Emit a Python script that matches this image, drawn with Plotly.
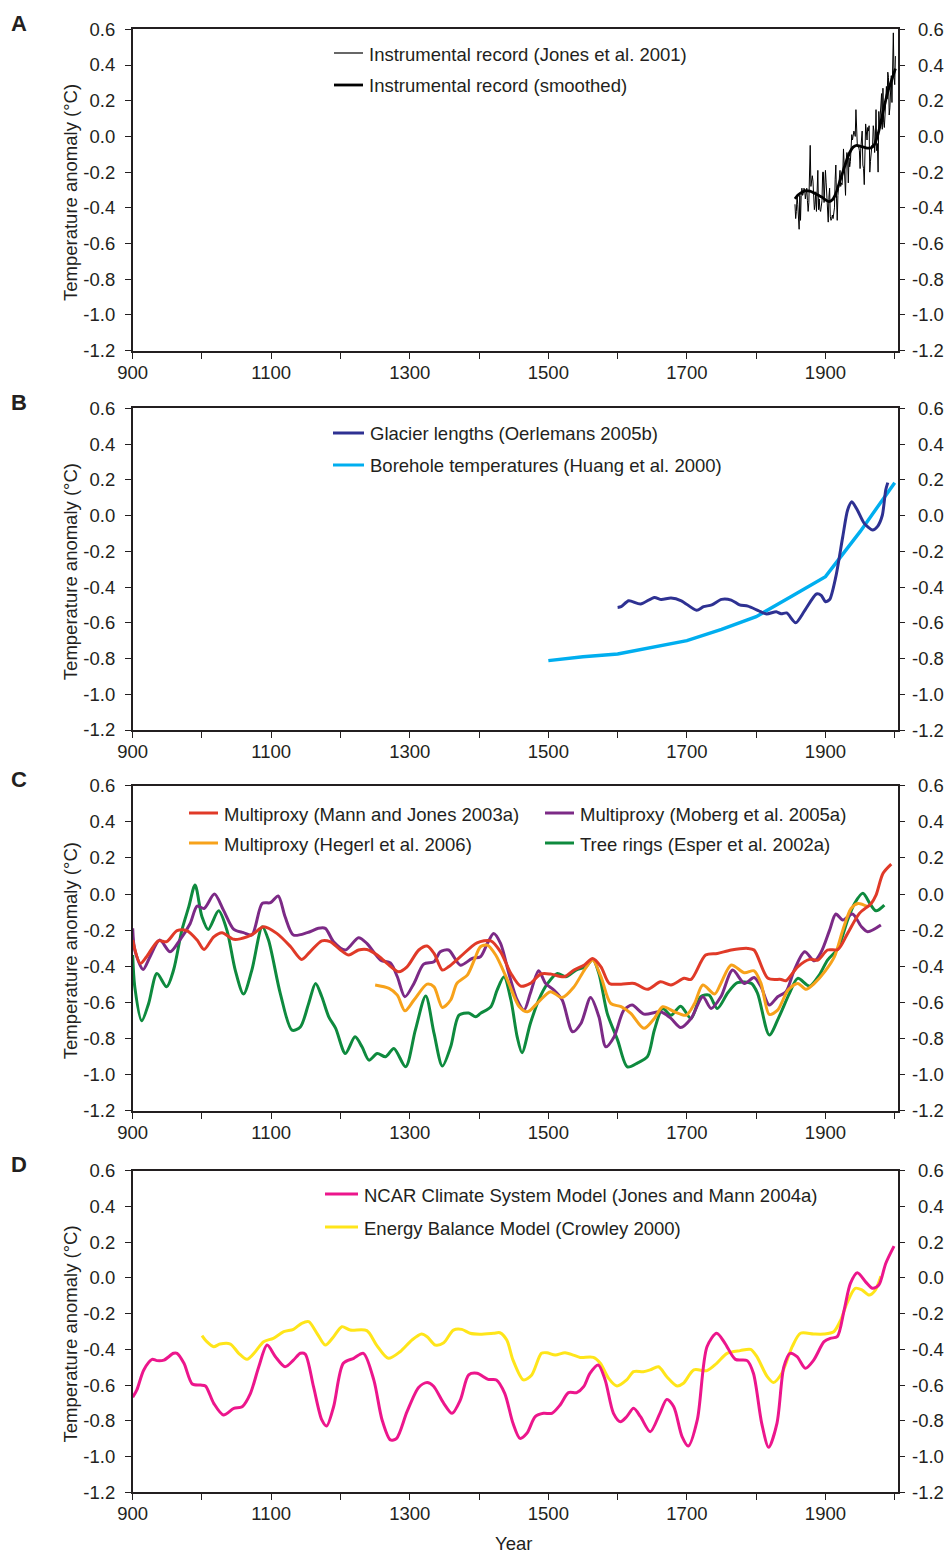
import plotly.graph_objects as go

# ---------------- Panel A: instrumental record ----------------
inst_years = list(range(1856, 2002))
inst_vals = [
    -0.38, -0.46, -0.42, -0.33, -0.38, -0.44, -0.52, -0.33, -0.47, -0.33,
    -0.29, -0.33, -0.32, -0.29, -0.30, -0.35, -0.29, -0.29, -0.36, -0.42,
    -0.37, -0.11, -0.05, -0.28, -0.26, -0.22, -0.25, -0.31, -0.41, -0.38,
    -0.31, -0.42, -0.32, -0.19, -0.41, -0.35, -0.41, -0.42, -0.39, -0.36,
    -0.20, -0.20, -0.37, -0.25, -0.19, -0.26, -0.37, -0.44, -0.48, -0.34,
    -0.29, -0.45, -0.47, -0.46, -0.44, -0.46, -0.40, -0.40, -0.24, -0.16,
    -0.35, -0.47, -0.33, -0.26, -0.26, -0.19, -0.28, -0.26, -0.27, -0.21,
    -0.07, -0.18, -0.18, -0.33, -0.13, -0.09, -0.13, -0.26, -0.12, -0.17,
    -0.14, -0.03, 0.01, -0.02, 0.03, 0.03, 0.02, 0.00, 0.15, -0.01,
    -0.05, -0.06, -0.06, -0.08, -0.18, -0.07, -0.02, 0.03, -0.16, -0.18,
    -0.27, 0.04, 0.07, 0.03, -0.02, 0.05, 0.03, 0.06, -0.20, -0.14,
    -0.06, -0.05, -0.06, 0.06, 0.03, -0.09, -0.02, 0.15, -0.08, -0.04,
    -0.20, 0.14, 0.05, 0.12, 0.19, 0.24, 0.04, 0.27, 0.08, 0.05,
    0.12, 0.27, 0.28, 0.21, 0.36, 0.33, 0.12, 0.16, 0.22, 0.34,
    0.19, 0.42, 0.58, 0.33, 0.29, 0.45,
]
smooth_years = [1856, 1860, 1865, 1870, 1875, 1880, 1885, 1890, 1895, 1900,
                1905, 1910, 1915, 1920, 1925, 1930, 1935, 1940, 1945, 1950,
                1955, 1960, 1965, 1970, 1975, 1980, 1985, 1990, 1995, 2001]
smooth_vals = [-0.35, -0.33, -0.315, -0.305, -0.305, -0.31, -0.32, -0.33, -0.34, -0.355,
               -0.365, -0.355, -0.32, -0.26, -0.20, -0.14, -0.09, -0.06, -0.05, -0.055,
               -0.06, -0.065, -0.065, -0.05, 0.0, 0.08, 0.17, 0.25, 0.31, 0.38]

# ---------------- Panel B: glaciers and boreholes ----------------
glacier_years = [1600, 1605, 1616, 1633, 1653, 1663, 1677, 1692, 1714, 1724, 1736,
                 1750, 1764, 1776, 1788, 1803, 1815, 1829, 1836, 1844, 1857, 1870,
                 1887, 1894, 1900, 1906, 1915, 1925, 1932, 1938, 1946, 1956, 1968,
                 1975, 1982, 1987, 1990]
glacier_vals = [-0.514, -0.51, -0.477, -0.495, -0.458, -0.47, -0.462, -0.477, -0.53, -0.51, -0.50,
                -0.469, -0.473, -0.50, -0.507, -0.532, -0.551, -0.538, -0.55, -0.545, -0.60, -0.532,
                -0.439, -0.447, -0.482, -0.47, -0.342, -0.118, 0.031, 0.077, 0.031, -0.044, -0.081,
                -0.062, 0.0, 0.143, 0.184]

borehole_years = [1500, 1550, 1600, 1650, 1700, 1750, 1800, 1850, 1900, 1950, 2000]
borehole_vals = [-0.812, -0.79, -0.775, -0.737, -0.70, -0.637, -0.566, -0.454, -0.342, -0.09, 0.184]

# ---------------- Panel C: proxy reconstructions ----------------
mann_years = [900, 911, 920, 937, 949, 964, 978, 993, 1003, 1017, 1029, 1046, 1065, 1075,
              1089, 1108, 1128, 1144, 1156, 1173, 1185, 1200, 1212, 1226, 1238, 1253, 1267,
              1284, 1296, 1313, 1325, 1335, 1347, 1356, 1373, 1397, 1417, 1431, 1446, 1460,
              1474, 1489, 1503, 1523, 1537, 1552, 1564, 1576, 1588, 1605, 1624, 1643, 1662,
              1677, 1696, 1706, 1727, 1744, 1764, 1788, 1797, 1817, 1836, 1843, 1860, 1877,
              1889, 1903, 1918, 1932, 1949, 1966, 1973, 1983, 1995]
mann_vals = [-0.255, -0.384, -0.347, -0.259, -0.264, -0.203, -0.203, -0.255, -0.307, -0.237,
             -0.214, -0.251, -0.237, -0.218, -0.181, -0.218, -0.292, -0.362, -0.320, -0.259,
             -0.264, -0.310, -0.338, -0.310, -0.307, -0.338, -0.384, -0.430, -0.403, -0.310,
             -0.288, -0.329, -0.421, -0.403, -0.347, -0.27, -0.259, -0.320, -0.44, -0.51,
             -0.495, -0.443, -0.443, -0.458, -0.421, -0.393, -0.357, -0.403, -0.495, -0.499,
             -0.495, -0.528, -0.486, -0.504, -0.467, -0.473, -0.338, -0.329, -0.310, -0.301,
             -0.310, -0.467, -0.473, -0.480, -0.403, -0.362, -0.366, -0.310, -0.307, -0.218,
             -0.107, -0.052, -0.006, 0.114, 0.166]

moberg_years = [900, 903, 915, 925, 939, 954, 968, 983, 993, 1003, 1018, 1031, 1046, 1060,
                1072, 1087, 1099, 1110, 1120, 1132, 1152, 1168, 1178, 1190, 1207, 1226, 1238,
                1258, 1272, 1282, 1293, 1306, 1320, 1335, 1344, 1356, 1373, 1390, 1402, 1412,
                1421, 1431, 1443, 1455, 1465, 1474, 1486, 1496, 1508, 1520, 1535, 1547, 1561,
                1573, 1583, 1595, 1609, 1621, 1638, 1662, 1677, 1691, 1706, 1723, 1735, 1749,
                1766, 1783, 1797, 1807, 1819, 1831, 1843, 1855, 1870, 1884, 1894, 1906, 1915,
                1925, 1939, 1952, 1961, 1980]
moberg_vals = [-0.19, -0.31, -0.418, -0.347, -0.255, -0.320, -0.255, -0.163, -0.067, -0.080,
               0.0, -0.089, -0.196, -0.214, -0.227, -0.052, -0.048, -0.011, -0.126, -0.227,
               -0.214, -0.190, -0.19, -0.264, -0.310, -0.242, -0.273, -0.366, -0.381, -0.458,
               -0.569, -0.495, -0.388, -0.375, -0.320, -0.310, -0.394, -0.357, -0.347, -0.273,
               -0.218, -0.273, -0.44, -0.587, -0.643, -0.550, -0.425, -0.495, -0.532, -0.587,
               -0.763, -0.717, -0.573, -0.68, -0.846, -0.79, -0.643, -0.615, -0.665, -0.652,
               -0.689, -0.739, -0.689, -0.569, -0.634, -0.569, -0.421, -0.495, -0.462, -0.514,
               -0.615, -0.569, -0.541, -0.421, -0.320, -0.370, -0.320, -0.2, -0.111, -0.144,
               -0.111, -0.181, -0.209, -0.172]

hegerl_years = [1250, 1270, 1282, 1293, 1306, 1325, 1335, 1347, 1359, 1368, 1383, 1393, 1402,
                1412, 1424, 1441, 1458, 1470, 1486, 1503, 1520, 1537, 1552, 1564, 1576, 1590,
                1605, 1619, 1638, 1653, 1665, 1682, 1699, 1711, 1723, 1740, 1749, 1764, 1783,
                1797, 1807, 1819, 1831, 1846, 1860, 1872, 1884, 1899, 1913, 1925, 1937, 1947,
                1961]
hegerl_vals = [-0.504, -0.523, -0.56, -0.647, -0.587, -0.499, -0.514, -0.628, -0.587, -0.495,
               -0.449, -0.366, -0.292, -0.283, -0.338, -0.477, -0.624, -0.652, -0.597, -0.541,
               -0.573, -0.514, -0.421, -0.366, -0.458, -0.606, -0.624, -0.661, -0.744, -0.689,
               -0.624, -0.652, -0.671, -0.606, -0.504, -0.554, -0.495, -0.393, -0.436, -0.425,
               -0.495, -0.667, -0.643, -0.532, -0.495, -0.528, -0.495, -0.430, -0.347, -0.2,
               -0.080, -0.052, -0.070]

esper_years = [900, 903, 913, 923, 935, 949, 959, 971, 981, 990, 1000, 1009, 1024, 1036, 1048,
               1060, 1072, 1087, 1096, 1113, 1130, 1142, 1154, 1164, 1173, 1183, 1193, 1207,
               1221, 1231, 1241, 1253, 1265, 1277, 1294, 1308, 1323, 1335, 1347, 1359, 1371,
               1385, 1395, 1402, 1417, 1426, 1436, 1446, 1455, 1462, 1474, 1486, 1499, 1513,
               1525, 1540, 1554, 1564, 1573, 1585, 1600, 1614, 1629, 1643, 1653, 1665, 1677,
               1691, 1706, 1720, 1732, 1744, 1759, 1773, 1793, 1802, 1819, 1833, 1848, 1860,
               1877, 1891, 1903, 1918, 1932, 1942, 1954, 1964, 1973, 1985]
esper_vals = [-0.338, -0.514, -0.702, -0.606, -0.44, -0.514, -0.421, -0.2, -0.070, 0.05,
              -0.126, -0.196, -0.093, -0.2, -0.421, -0.554, -0.421, -0.181, -0.255, -0.550,
              -0.754, -0.736, -0.606, -0.495, -0.569, -0.680, -0.744, -0.883, -0.791, -0.846,
              -0.920, -0.883, -0.901, -0.855, -0.957, -0.754, -0.565, -0.772, -0.953, -0.846,
              -0.671, -0.659, -0.680, -0.661, -0.624, -0.532, -0.458, -0.587, -0.791, -0.879,
              -0.717, -0.587, -0.495, -0.44, -0.458, -0.421, -0.403, -0.362, -0.44, -0.661,
              -0.809, -0.957, -0.935, -0.901, -0.754, -0.634, -0.671, -0.621, -0.689, -0.569,
              -0.560, -0.634, -0.547, -0.491, -0.495, -0.550, -0.781, -0.680, -0.550, -0.467,
              -0.510, -0.449, -0.366, -0.301, -0.144, -0.052, 0.004, -0.052, -0.093, -0.061]

# ---------------- Panel D: model simulations ----------------
ncar_years = [900, 906, 916, 928, 935, 945, 959, 964, 974, 986, 998, 1005, 1017, 1031, 1046,
              1058, 1070, 1082, 1094, 1106, 1120, 1132, 1142, 1149, 1161, 1173, 1180, 1190,
              1204, 1219, 1233, 1248, 1260, 1272, 1281, 1296, 1313, 1325, 1334, 1349, 1361,
              1373, 1385, 1397, 1413, 1425, 1437, 1449, 1459, 1469, 1481, 1493, 1505, 1517,
              1529, 1541, 1551, 1560, 1572, 1582, 1594, 1604, 1613, 1623, 1633, 1647, 1661,
              1671, 1681, 1693, 1702, 1715, 1729, 1743, 1755, 1770, 1787, 1796, 1808, 1818,
              1830, 1840, 1849, 1859, 1871, 1883, 1898, 1907, 1917, 1927, 1936, 1946, 1958,
              1968, 1977, 1987, 1999]
ncar_vals = [-0.668, -0.627, -0.515, -0.456, -0.463, -0.46, -0.422, -0.422, -0.478, -0.594,
             -0.6, -0.605, -0.702, -0.767, -0.730, -0.721, -0.646, -0.497, -0.376, -0.441,
             -0.497, -0.460, -0.422, -0.426, -0.609, -0.795, -0.829, -0.721, -0.478, -0.45,
             -0.422, -0.571, -0.795, -0.907, -0.898, -0.749, -0.612, -0.586, -0.605, -0.702,
             -0.758, -0.683, -0.543, -0.534, -0.568, -0.571, -0.646, -0.814, -0.898, -0.870,
             -0.777, -0.758, -0.758, -0.711, -0.642, -0.642, -0.609, -0.534, -0.487, -0.571,
             -0.758, -0.805, -0.777, -0.730, -0.777, -0.861, -0.758, -0.680, -0.721, -0.888,
             -0.941, -0.795, -0.385, -0.310, -0.366, -0.456, -0.463, -0.534, -0.814, -0.948,
             -0.814, -0.497, -0.422, -0.441, -0.506, -0.460, -0.357, -0.338, -0.329, -0.180,
             -0.031, 0.029, -0.022, -0.058, -0.040, 0.081, 0.178]

ebm_years = [1000, 1007, 1017, 1026, 1041, 1053, 1065, 1077, 1089, 1103, 1118, 1132, 1144,
             1154, 1166, 1178, 1190, 1202, 1214, 1238, 1252, 1269, 1286, 1303, 1317, 1325,
             1337, 1349, 1363, 1375, 1387, 1401, 1421, 1430, 1440, 1449, 1464, 1476, 1490,
             1498, 1510, 1524, 1536, 1546, 1565, 1575, 1587, 1599, 1613, 1623, 1637, 1647,
             1659, 1671, 1686, 1695, 1710, 1729, 1743, 1758, 1777, 1792, 1801, 1816, 1825,
             1837, 1852, 1864, 1883, 1898, 1912, 1922, 1931, 1943, 1953, 1963, 1972, 1980]
ebm_vals = [-0.323, -0.357, -0.385, -0.370, -0.370, -0.422, -0.456, -0.413, -0.357, -0.338,
            -0.301, -0.288, -0.254, -0.245, -0.310, -0.376, -0.329, -0.273, -0.292, -0.295,
            -0.376, -0.450, -0.413, -0.348, -0.314, -0.329, -0.376, -0.363, -0.292, -0.288,
            -0.310, -0.315, -0.310, -0.307, -0.348, -0.460, -0.571, -0.543, -0.422, -0.419,
            -0.432, -0.419, -0.432, -0.445, -0.445, -0.478, -0.562, -0.605, -0.571, -0.525,
            -0.525, -0.515, -0.497, -0.553, -0.605, -0.590, -0.515, -0.519, -0.478, -0.422,
            -0.407, -0.400, -0.441, -0.553, -0.586, -0.534, -0.385, -0.310, -0.314, -0.314,
            -0.301, -0.236, -0.142, -0.058, -0.068, -0.096, -0.068, 0.009]

# ---------------- Axis definitions ----------------
y_ticks = [-1.2, -1.0, -0.8, -0.6, -0.4, -0.2, 0.0, 0.2, 0.4, 0.6]
y_tick_labels = ["-1.2", "-1.0", "-0.8", "-0.6", "-0.4", "-0.2", "0.0", "0.2", "0.4", "0.6"]
x_ticks = list(range(900, 2001, 100))
x_tick_labels = ["900", "", "1100", "", "1300", "", "1500", "", "1700", "", "1900", ""]

W, H = 949, 1553
INK = "#231f20"
FONT = "Liberation Sans, Arial, Helvetica, sans-serif"
FS = 18.5

# plot-area edges in pixels (left, right, top, bottom) for each panel
panel_px = [
    (132.7, 897.5, 29.3, 350.7),
    (132.7, 897.5, 408.3, 730.0),
    (132.7, 897.5, 785.7, 1110.7),
    (132.7, 897.5, 1170.7, 1492.3),
]
X_RANGE = [900, 2004]
Y_RANGE = [-1.2, 0.6]


def px(x):
    return x / W


def py(y):
    return 1 - y / H


fig = go.Figure()
layout = dict(
    width=W, height=H,
    margin=dict(l=0, r=0, t=0, b=0, pad=0, autoexpand=False),
    paper_bgcolor="white", plot_bgcolor="white",
    showlegend=False,
    font=dict(family=FONT, size=FS, color=INK),
)

annotations = []
shapes = []

for i, (l, r, t, b) in enumerate(panel_px, start=1):
    xa = "xaxis" if i == 1 else f"xaxis{i}"
    ya = "yaxis" if i == 1 else f"yaxis{i}"
    yr = f"yaxis{i + 4}"
    layout[xa] = dict(
        domain=[px(l), px(r)], anchor=f"y{i}" if i > 1 else "y",
        range=X_RANGE, tickvals=x_ticks, ticktext=x_tick_labels,
        ticks="outside", ticklen=6, tickwidth=1.3, tickcolor=INK,
        showline=True, linecolor=INK, linewidth=1.6, mirror=True,
        showgrid=False, zeroline=False, automargin=False,
        tickfont=dict(family=FONT, size=FS, color=INK),
        ticklabelstandoff=-2,
    )
    common_y = dict(
        domain=[py(b), py(t)], range=Y_RANGE,
        tickvals=y_ticks, ticktext=y_tick_labels,
        ticks="outside", ticklen=6, tickwidth=1.3, tickcolor=INK,
        showline=True, linecolor=INK, linewidth=1.6,
        showgrid=False, zeroline=False, automargin=False,
        tickfont=dict(family=FONT, size=FS, color=INK),
        ticklabelstandoff=6,
    )
    layout[ya] = dict(common_y, anchor=f"x{i}" if i > 1 else "x", side="left")
    layout[yr] = dict(common_y, anchor=f"x{i}" if i > 1 else "x", side="right",
                      overlaying=f"y{i}" if i > 1 else "y", showticklabels=False)
    # empty trace so the right-hand axis is rendered
    fig.add_trace(go.Scatter(x=[None], y=[None], xaxis=f"x{i}" if i > 1 else "x",
                             yaxis=f"y{i + 4}", showlegend=False, hoverinfo="skip"))
    # right-hand tick labels, right aligned at the figure edge
    for v, lab in zip(y_ticks, y_tick_labels):
        annotations.append(dict(xref="paper", yref=f"y{i + 4}", x=px(946), y=v,
                                xanchor="right", yanchor="middle", showarrow=False,
                                text=lab, font=dict(family=FONT, size=FS, color=INK)))

fig.update_layout(**layout)


def add_line(xs, ys, panel, color, width, shape="spline", smoothing=0.8):
    xa = "x" if panel == 1 else f"x{panel}"
    ya = "y" if panel == 1 else f"y{panel}"
    line = dict(color=color, width=width, shape=shape)
    if shape == "spline":
        line["smoothing"] = smoothing
    fig.add_trace(go.Scatter(x=xs, y=ys, mode="lines", line=line,
                             xaxis=xa, yaxis=ya, hoverinfo="skip", showlegend=False))


C_INST = "#000000"
C_GLACIER = "#2e3192"
C_BORE = "#00aeef"
C_MANN = "#e03a28"
C_MOBERG = "#7c2a86"
C_HEGERL = "#f7a21b"
C_ESPER = "#0e8a3e"
C_NCAR = "#ec168c"
C_EBM = "#ffe51a"

# Panel A
add_line(inst_years, inst_vals, 1, C_INST, 1.0, shape="linear")
add_line(smooth_years, smooth_vals, 1, C_INST, 2.8)
# Panel B
add_line(borehole_years, borehole_vals, 2, C_BORE, 3.4, shape="linear")
add_line(glacier_years, glacier_vals, 2, C_GLACIER, 3.0, smoothing=0.7)
# Panel C
add_line(esper_years, esper_vals, 3, C_ESPER, 3.0)
add_line(moberg_years, moberg_vals, 3, C_MOBERG, 3.0)
add_line(hegerl_years, hegerl_vals, 3, C_HEGERL, 3.0)
add_line(mann_years, mann_vals, 3, C_MANN, 3.0)
# Panel D
add_line(ebm_years, ebm_vals, 4, C_EBM, 3.0)
add_line(ncar_years, ncar_vals, 4, C_NCAR, 3.0)


# ---------------- Legends, titles, panel letters ----------------
def legend_entry(x0, x1, y, color, width, label):
    shapes.append(dict(type="line", xref="paper", yref="paper",
                       x0=px(x0), x1=px(x1), y0=py(y), y1=py(y),
                       line=dict(color=color, width=width)))
    annotations.append(dict(xref="paper", yref="paper", x=px(x1 + 3.5), y=py(y + 1),
                            xanchor="left", yanchor="middle", showarrow=False,
                            text=label, font=dict(family=FONT, size=FS, color=INK)))


legend_entry(334, 363, 53, C_INST, 1.2, "Instrumental record (Jones et al. 2001)")
legend_entry(334, 363, 85, C_INST, 2.8, "Instrumental record (smoothed)")
legend_entry(333, 364, 433, C_GLACIER, 3.0, "Glacier lengths (Oerlemans 2005b)")
legend_entry(333, 364, 465, C_BORE, 3.0, "Borehole temperatures (Huang et al. 2000)")
legend_entry(189, 218, 813, C_MANN, 3.0, "Multiproxy (Mann and Jones 2003a)")
legend_entry(545, 574, 813, C_MOBERG, 3.0, "Multiproxy (Moberg et al. 2005a)")
legend_entry(189, 218, 843, C_HEGERL, 3.0, "Multiproxy (Hegerl et al. 2006)")
legend_entry(545, 574, 843, C_ESPER, 3.0, "Tree rings (Esper et al. 2002a)")
legend_entry(325, 358, 1194, C_NCAR, 3.0, "NCAR Climate System Model (Jones and Mann 2004a)")
legend_entry(325, 358, 1227, C_EBM, 3.0, "Energy Balance Model (Crowley 2000)")

for letter, (l, r, t, b) in zip("ABCD", panel_px):
    annotations.append(dict(xref="paper", yref="paper", x=px(18.5), y=py(t - 6),
                            xanchor="center", yanchor="middle", showarrow=False,
                            text=f"<b>{letter}</b>",
                            font=dict(family=FONT, size=22, color=INK)))
    annotations.append(dict(xref="paper", yref="paper", x=px(70), y=py((t + b) / 2 + 3),
                            xanchor="center", yanchor="middle", showarrow=False,
                            textangle=-90, text="Temperature anomaly (°C)",
                            font=dict(family=FONT, size=FS, color=INK)))

annotations.append(dict(xref="paper", yref="paper", x=px(513), y=py(1543),
                        xanchor="center", yanchor="middle", showarrow=False,
                        text="Year", font=dict(family=FONT, size=FS, color=INK)))

fig.update_layout(shapes=shapes, annotations=annotations)
fig.write_html("out.html")
